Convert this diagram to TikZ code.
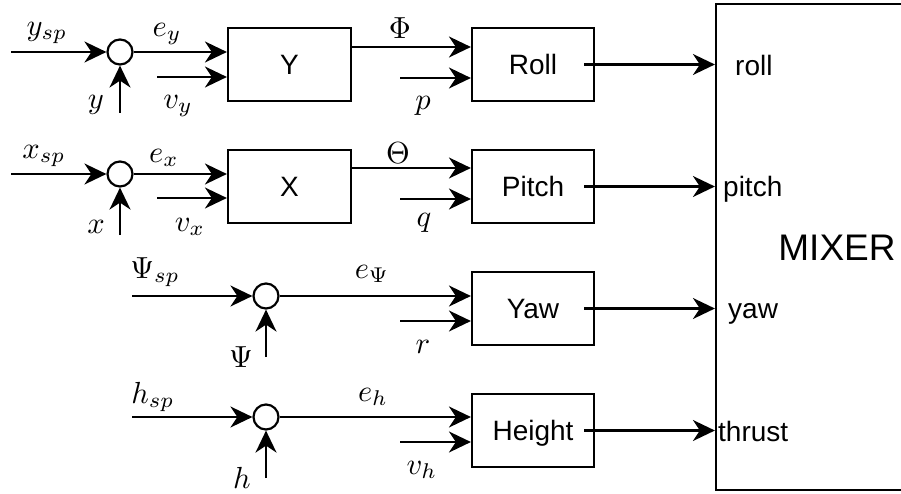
\documentclass[tikz,border=0pt]{standalone}
\usepackage{fontspec}
\newfontfamily\arial{Liberation Sans}
\usetikzlibrary{arrows.meta}
\begin{document}
\begin{tikzpicture}[x=1pt,y=-1pt,
  arr/.style={line width=2.2pt,-{Stealth[length=22pt,width=21pt,inset=7pt]}},
  blk/.style={draw,line width=2.2pt,minimum height=73pt,inner sep=0pt,font=\arial\fontsize{28}{32}\selectfont,text height=20pt,text depth=0pt},
  sum/.style={draw,circle,line width=2.2pt,minimum size=25pt,inner sep=0pt},
  lbl/.style={font=\fontsize{10}{12}\selectfont,inner sep=0pt,scale=3.05,transform shape},
  port/.style={font=\arial\fontsize{28}{32}\selectfont,anchor=base west,inner sep=0pt}]
\useasboundingbox (0,0) rectangle (901,494);
% blocks
\node[blk,minimum width=123pt] (Y) at (289.5,64.5) {Y};
\node[blk,minimum width=123pt] (X) at (289.5,186.5) {X};
\node[blk,minimum width=122pt] (Roll) at (533,64.5) {Roll};
\node[blk,minimum width=122pt] (Pitch) at (533,186.5) {Pitch};
\node[blk,minimum width=122pt] (Yaw) at (533,308.5) {Yaw};
\node[blk,minimum width=122pt] (Height) at (533,430.5) {Height};
\node[draw,line width=2.2pt,minimum width=242pt,minimum height=486pt,inner sep=0pt,
  font=\arial\fontsize{37}{40}\selectfont,text height=26pt,text depth=0pt] (M) at (837,247) {MIXER};
% summing junctions
\node[sum] (cy) at (120,52) {};
\node[sum] (cx) at (120,174) {};
\node[sum] (cp) at (266,296) {};
\node[sum] (ch) at (266,417) {};
% free ends
\coordinate (ysp) at (11,52);
\coordinate (vy) at (157,77);
\coordinate (yin) at (120,113);
\coordinate (xsp) at (11,174);
\coordinate (vx) at (157,198);
\coordinate (xin) at (120,235);
\coordinate (phi) at (400,47);
\coordinate (pp) at (400,78);
\coordinate (th) at (400,168);
\coordinate (qq) at (400,199);
\coordinate (psp) at (132,296);
\coordinate (rr) at (400,321);
\coordinate (pin) at (266,357);
\coordinate (hsp) at (132,417);
\coordinate (vh) at (400,442);
\coordinate (hin) at (266,478);
% connectors Y row
\draw[arr] (ysp) -- (cy);
\draw[arr] (cy) -- (cy -| Y.west);
\draw[arr] (vy) -- (vy -| Y.west);
\draw[arr] (yin) -- (cy);
% X row
\draw[arr] (xsp) -- (cx);
\draw[arr] (cx) -- (cx -| X.west);
\draw[arr] (vx) -- (vx -| X.west);
\draw[arr] (xin) -- (cx);
% attitude
\draw[arr] (phi -| Y.east) -- (phi -| Roll.west);
\draw[arr] (pp) -- (pp -| Roll.west);
\draw[arr] (th -| X.east) -- (th -| Pitch.west);
\draw[arr] (qq) -- (qq -| Pitch.west);
% yaw row
\draw[arr] (psp) -- (cp);
\draw[arr] (cp) -- (cp -| Yaw.west);
\draw[arr] (rr) -- (rr -| Yaw.west);
\draw[arr] (pin) -- (cp);
% height row
\draw[arr] (hsp) -- (ch);
\draw[arr] (ch) -- (ch -| Height.west);
\draw[arr] (vh) -- (vh -| Height.west);
\draw[arr] (hin) -- (ch);
% outputs
\draw[arr] ([xshift=-11pt]Roll.east) -- (Roll.east -| M.west);
\draw[arr] ([xshift=-11pt]Pitch.east) -- (Pitch.east -| M.west);
\draw[arr] ([xshift=-11pt]Yaw.east) -- (Yaw.east -| M.west);
\draw[arr] ([xshift=-11pt]Height.east) -- (Height.east -| M.west);
% math labels
\node[lbl] (lysp) at (47,33) {$y_{sp}$};
\node[lbl] (ley) at (167,34) {$e_y$};
\node[lbl] (ly) at (96,105) {$y$};
\node[lbl] (lvy) at (178,106) {$v_y$};
\node[lbl] (lxsp) at (44,156) {$x_{sp}$};
\node[lbl] (lex) at (164,158) {$e_x$};
\node[lbl] (lx) at (96,227) {$x$};
\node[lbl] (lvx) at (190,227) {$v_x$};
\node[lbl] (lphi) at (400,28) {$\Phi$};
\node[lbl] (lp) at (423,106) {$p$};
\node[lbl] (lth) at (398,153) {$\Theta$};
\node[lbl] (lq) at (424,223) {$q$};
\node[lbl] (lpsp) at (155,272) {$\Psi_{sp}$};
\node[lbl] (lpsi) at (241,357) {$\Psi$};
\node[lbl] (lep) at (372,274) {$e_\Psi$};
\node[lbl] (lr) at (423,347) {$r$};
\node[lbl] (lhsp) at (153,397) {$h_{sp}$};
\node[lbl] (lh) at (242,478) {$h$};
\node[lbl] (leh) at (373,397) {$e_h$};
\node[lbl] (lvh) at (422,470) {$v_h$};
% mixer port labels
\node[port] (proll) at (735,76) {roll};
\node[port] (ppitch) at (723,197) {pitch};
\node[port] (pyaw) at (728,318) {yaw};
\node[port] (pthrust) at (718,441) {thrust};
\end{tikzpicture}
\end{document}
